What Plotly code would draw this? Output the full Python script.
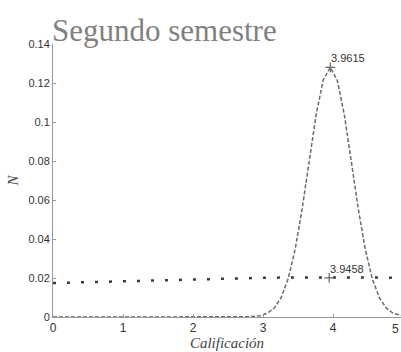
import plotly.graph_objects as go

# narrow distribution (second semester)
narrow_x = [0, 1, 2, 2.8, 2.96, 3.06, 3.16, 3.26, 3.36, 3.46, 3.56, 3.66, 3.76, 3.86, 3.96,
            4.06, 4.16, 4.26, 4.36, 4.46, 4.56, 4.66, 4.76, 4.86, 4.96, 5.0]
narrow_y = [0, 0, 0, 0.0001, 0.0007, 0.0019, 0.0046, 0.0100, 0.0197, 0.0349, 0.0557, 0.080,
            0.104, 0.1215, 0.128, 0.1215, 0.104, 0.080, 0.0557, 0.0349, 0.0197, 0.0100,
            0.0046, 0.0019, 0.0007, 0.0005]

# wide distribution
wide_x = [0, 0.5, 1, 1.5, 2, 2.5, 3, 3.5, 3.9458, 4.5, 5]
wide_y = [0.0174, 0.0179, 0.0184, 0.0189, 0.0194, 0.0198, 0.0201, 0.0203, 0.0204, 0.0203, 0.0201]

peak_labels = ["3.9615", "3.9458"]
peak_x = [3.9615, 3.9458]
peak_y = [0.128, 0.0201]

x_ticks = [0, 1, 2, 3, 4, 5]
y_ticks = [0, 0.02, 0.04, 0.06, 0.08, 0.1, 0.12, 0.14]
y_ticktext = ["0", "0.02", "0.04", "0.06", "0.08", "0.1", "0.12", "0.14"]

fig = go.Figure()
fig.add_trace(go.Scatter(x=narrow_x, y=narrow_y, mode="lines",
                         line=dict(color="#6a6a6a", width=1.5, dash="4px,2px"),
                         showlegend=False, cliponaxis=False))
fig.add_trace(go.Scatter(x=wide_x, y=wide_y, mode="lines",
                         line=dict(color="#3a3a3a", width=2.5, dash="3px,11px"),
                         showlegend=False))
fig.add_trace(go.Scatter(x=peak_x, y=peak_y, mode="markers",
                         marker=dict(symbol="cross-thin", size=7,
                                     line=dict(color="#666", width=1.2)),
                         showlegend=False))
for lx, ly, lt in zip(peak_x, peak_y, peak_labels):
    fig.add_annotation(x=lx, y=ly, text=lt, showarrow=False, xanchor="left",
                       yanchor="bottom", xshift=-1, yshift=1,
                       font=dict(family="Liberation Sans", size=11, color="#333"))

# tick label at x=5 (axis ends just past the window edge), kept inside the page
fig.add_annotation(x=1.0, y=0, xref="paper", yref="paper", text=str(x_ticks[-1]),
                   showarrow=False, xanchor="right", yanchor="top", xshift=0, yshift=-3,
                   font=dict(family="Liberation Sans", size=12, color="#333"))

fig.add_annotation(xref="paper", yref="paper", x=-0.01, y=1.0, text="Segundo semestre",
                   showarrow=False, xanchor="left", yanchor="bottom", yshift=-6,
                   font=dict(family="Liberation Serif", size=31, color="#808080"))

fig.update_layout(
    width=401, height=352,
    margin=dict(l=53, r=0, t=44, b=35),
    paper_bgcolor="white", plot_bgcolor="white",
    xaxis=dict(range=[0, 4.971], tickvals=x_ticks, ticks="inside", ticklen=3,
               tickcolor="#999", showline=True, linecolor="#999", linewidth=1,
               showgrid=False, zeroline=False,
               tickfont=dict(family="Liberation Sans", size=12, color="#333"),
               title=dict(text="<i>Calificación</i>", standoff=0,
                          font=dict(family="Liberation Serif", size=15, color="#444"))),
    yaxis=dict(range=[0, 0.14], tickvals=y_ticks, ticktext=y_ticktext, ticks="inside",
               ticklen=3, tickcolor="#999", showline=True, linecolor="#999",
               linewidth=1, showgrid=False, zeroline=False,
               tickfont=dict(family="Liberation Sans", size=11, color="#333"),
               title=dict(text="<i>N</i>", standoff=6,
                          font=dict(family="Liberation Serif", size=15, color="#444"))),
)

fig.write_html("out.html")
